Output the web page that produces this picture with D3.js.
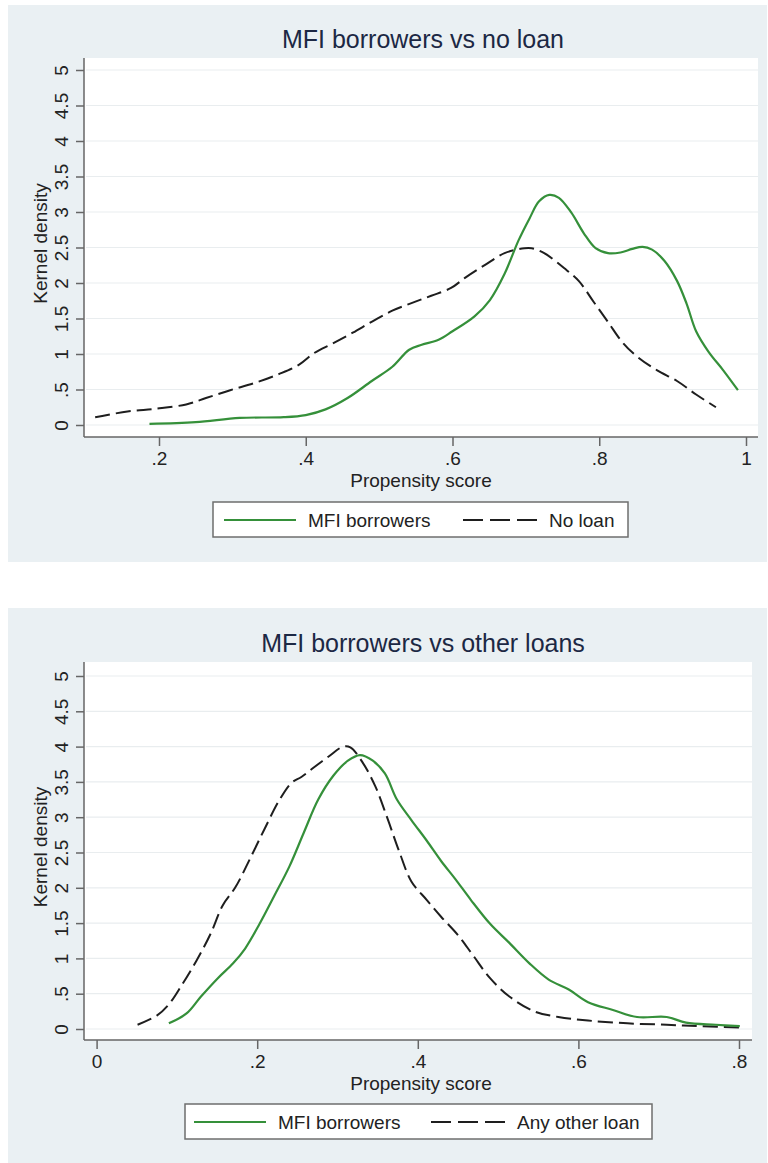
<!DOCTYPE html>
<html lang="en">
<head>
<meta charset="utf-8">
<title>Kernel density of propensity scores</title>
<script src="https://d3js.org/d3.v7.min.js"></script>
<style>
  body { margin: 0; background: #fff; }
  svg { display: block; font-family: "Liberation Sans", Arial, sans-serif; }
  .grid line { stroke: #e9edef; stroke-width: 1.2px; }
  .axis path, .axis line { stroke: #666; stroke-width: 1.5px; }
  .axis text { fill: #222; font-size: 19px; }
</style>
</head>
<body>
<svg width="768" height="1163"></svg>
<script>
// ---- data ----
var yTicks = [0, 0.5, 1, 1.5, 2, 2.5, 3, 3.5, 4, 4.5, 5];
var topXTicks = [0.2, 0.4, 0.6, 0.8, 1];
var bottomXTicks = [0, 0.2, 0.4, 0.6, 0.8];

var titles = ["MFI borrowers vs no loan", "MFI borrowers vs other loans"];
var legendLabels = [["MFI borrowers", "No loan"], ["MFI borrowers", "Any other loan"]];

// top panel: MFI borrowers (green)
var mfiVsNone = [
  [0.187, 0.016], [0.25, 0.04], [0.31, 0.10], [0.37, 0.11], [0.40, 0.14], [0.427, 0.22],
  [0.457, 0.38], [0.49, 0.62], [0.518, 0.82], [0.541, 1.06], [0.558, 1.13], [0.581, 1.20],
  [0.60, 1.32], [0.63, 1.53], [0.651, 1.76], [0.671, 2.13], [0.69, 2.60], [0.705, 2.91],
  [0.718, 3.15], [0.732, 3.24], [0.745, 3.20], [0.762, 2.99], [0.779, 2.70], [0.795, 2.49],
  [0.812, 2.42], [0.829, 2.43], [0.845, 2.48], [0.859, 2.51], [0.872, 2.47], [0.889, 2.31],
  [0.906, 2.03], [0.919, 1.71], [0.932, 1.32], [0.949, 1.03], [0.969, 0.77], [0.989, 0.49]
];
// top panel: no loan (dashed)
var noLoan = [
  [0.113, 0.11], [0.157, 0.19], [0.197, 0.23], [0.237, 0.29], [0.264, 0.38], [0.297, 0.49],
  [0.330, 0.59], [0.364, 0.72], [0.391, 0.85], [0.411, 1.01], [0.437, 1.15], [0.464, 1.30],
  [0.491, 1.46], [0.518, 1.61], [0.545, 1.72], [0.571, 1.82], [0.598, 1.93], [0.618, 2.08],
  [0.645, 2.26], [0.671, 2.42], [0.698, 2.49], [0.708, 2.49], [0.725, 2.42], [0.752, 2.21],
  [0.772, 2.03], [0.792, 1.74], [0.812, 1.45], [0.832, 1.16], [0.852, 0.96], [0.879, 0.77],
  [0.906, 0.62], [0.932, 0.43], [0.959, 0.25]
];
// bottom panel: MFI borrowers (green)
var mfiVsOther = [
  [0.090, 0.08], [0.112, 0.22], [0.130, 0.46], [0.151, 0.72], [0.170, 0.93], [0.185, 1.14],
  [0.203, 1.49], [0.221, 1.88], [0.240, 2.30], [0.258, 2.78], [0.276, 3.25], [0.295, 3.59],
  [0.313, 3.80], [0.328, 3.88], [0.344, 3.80], [0.359, 3.62], [0.374, 3.25], [0.392, 2.96],
  [0.411, 2.67], [0.429, 2.38], [0.447, 2.12], [0.466, 1.83], [0.490, 1.49], [0.514, 1.22],
  [0.539, 0.93], [0.563, 0.70], [0.588, 0.56], [0.612, 0.38], [0.643, 0.27], [0.673, 0.17],
  [0.710, 0.17], [0.734, 0.09], [0.771, 0.06], [0.801, 0.04]
];
// bottom panel: any other loan (dashed)
var otherLoan = [
  [0.051, 0.06], [0.075, 0.19], [0.090, 0.35], [0.106, 0.62], [0.124, 0.96], [0.142, 1.35],
  [0.157, 1.75], [0.173, 2.01], [0.191, 2.41], [0.209, 2.83], [0.228, 3.25], [0.243, 3.49],
  [0.255, 3.57], [0.270, 3.70], [0.289, 3.86], [0.307, 4.00], [0.316, 3.99], [0.331, 3.78],
  [0.347, 3.44], [0.362, 2.99], [0.377, 2.51], [0.392, 2.09], [0.411, 1.83], [0.429, 1.59],
  [0.450, 1.33], [0.469, 1.04], [0.490, 0.72], [0.514, 0.46], [0.545, 0.25], [0.575, 0.17],
  [0.612, 0.12], [0.661, 0.08], [0.710, 0.06], [0.752, 0.04], [0.801, 0.02]
];

var green = "#35903a", dark = "#1e1e1e", bg = "#eaf0f3";

var svg = d3.select("svg");

function fmt(v) {
  if (v === 0 || v === 1 || v === 2 || v === 3 || v === 4 || v === 5) return String(v);
  return String(v).replace(/^0\./, ".");
}

function drawPanel(p) {
  var g = svg.append("g");

  g.append("rect")
    .attr("x", 8).attr("y", p.panelTop)
    .attr("width", 759).attr("height", p.panelBottom - p.panelTop)
    .attr("fill", bg);

  g.append("text")
    .attr("x", 423).attr("y", p.titleY)
    .attr("text-anchor", "middle")
    .attr("fill", "#1c2844")
    .style("font-size", "25px")
    .text(p.title);

  // plot region
  g.append("rect")
    .attr("x", p.left).attr("y", p.top)
    .attr("width", p.right - p.left).attr("height", p.bottom - p.top)
    .attr("fill", "#fff");

  var x = d3.scaleLinear().domain(p.xDom).range(p.xRange);
  var y = d3.scaleLinear().domain([0, 5]).range(p.yRange);

  g.append("g").attr("class", "grid")
    .selectAll("line").data(yTicks).enter().append("line")
    .attr("x1", p.left + 2).attr("x2", p.right)
    .attr("y1", function(d) { return y(d); })
    .attr("y2", function(d) { return y(d); });

  var yAxis = g.append("g").attr("class", "axis")
    .attr("transform", "translate(" + p.left + ",0)")
    .call(d3.axisLeft(y).tickValues(yTicks).tickSize(8).tickPadding(8).tickFormat(fmt));
  yAxis.select(".domain").attr("d", "M0," + p.top + "V" + p.bottom);
  yAxis.selectAll(".tick text")
    .attr("text-anchor", "middle")
    .attr("x", null)
    .attr("transform", "translate(-23,0) rotate(-90)")
    .attr("dy", "0.36em");

  var xAxis = g.append("g").attr("class", "axis")
    .attr("transform", "translate(0," + p.bottom + ")")
    .call(d3.axisBottom(x).tickValues(p.xTicks).tickSize(9).tickPadding(6).tickFormat(fmt));
  xAxis.select(".domain").attr("d", "M" + p.left + ",0H" + p.right);

  g.append("text")
    .attr("x", 421).attr("y", p.bottom + 50)
    .attr("text-anchor", "middle").attr("fill", "#222")
    .style("font-size", "19px")
    .text("Propensity score");

  g.append("text")
    .attr("transform", "translate(47," + ((p.top + p.bottom) / 2 - 4) + ") rotate(-90)")
    .attr("text-anchor", "middle").attr("fill", "#222")
    .style("font-size", "19px")
    .text("Kernel density");

  var line = d3.line()
    .curve(d3.curveCatmullRom)
    .x(function(d) { return x(d[0]); })
    .y(function(d) { return y(d[1]); });

  g.append("path").datum(p.dashed)
    .attr("d", line).attr("fill", "none")
    .attr("stroke", dark).attr("stroke-width", 2)
    .attr("stroke-dasharray", "15,6");

  g.append("path").datum(p.solid)
    .attr("d", line).attr("fill", "none")
    .attr("stroke", green).attr("stroke-width", 2.2);

  // legend
  var L = p.legend;
  g.append("rect")
    .attr("x", L.x).attr("y", L.y).attr("width", L.w).attr("height", 35)
    .attr("fill", "#fff").attr("stroke", "#6e6e6e").attr("stroke-width", 1.5);
  var cy = L.y + 18;
  g.append("line")
    .attr("x1", L.x + L.s1).attr("x2", L.x + L.s1 + 72)
    .attr("y1", cy).attr("y2", cy)
    .attr("stroke", green).attr("stroke-width", 2.2);
  g.append("text")
    .attr("x", L.x + L.s1 + 84).attr("y", cy + 7)
    .attr("fill", "#222").style("font-size", "19px")
    .text(p.labels[0]);
  g.append("line")
    .attr("x1", L.x + L.s2).attr("x2", L.x + L.s2 + 74)
    .attr("y1", cy).attr("y2", cy)
    .attr("stroke", dark).attr("stroke-width", 2)
    .attr("stroke-dasharray", "20,7");
  g.append("text")
    .attr("x", L.x + L.s2 + 86).attr("y", cy + 7)
    .attr("fill", "#222").style("font-size", "19px")
    .text(p.labels[1]);
}

drawPanel({
  panelTop: 5, panelBottom: 562, titleY: 48,
  title: titles[0], labels: legendLabels[0],
  left: 84, right: 758, top: 58, bottom: 437,
  xDom: [0.2, 1], xRange: [159, 746], yRange: [425, 70],
  xTicks: topXTicks,
  solid: mfiVsNone, dashed: noLoan,
  legend: { x: 213, y: 502, w: 415, s1: 11, s2: 250 }
});

drawPanel({
  panelTop: 608, panelBottom: 1163, titleY: 652,
  title: titles[1], labels: legendLabels[1],
  left: 84, right: 752, top: 662, bottom: 1040,
  xDom: [0, 0.8], xRange: [96.6, 739], yRange: [1029, 676],
  xTicks: bottomXTicks,
  solid: mfiVsOther, dashed: otherLoan,
  legend: { x: 185, y: 1104, w: 467, s1: 9, s2: 246 }
});
</script>
</body>
</html>
